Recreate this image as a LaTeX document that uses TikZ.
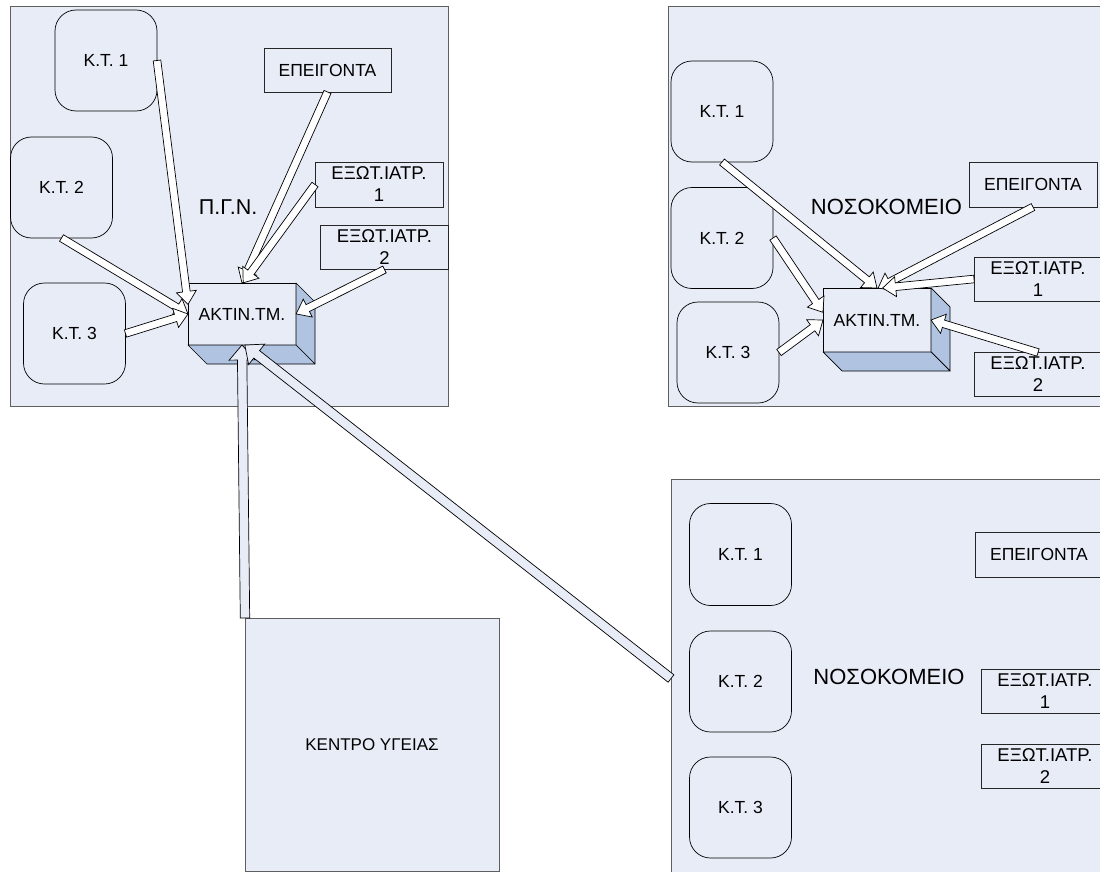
\documentclass[tikz,border=0pt]{standalone}
\usepackage{fontspec}
\setmainfont{Liberation Sans}
\usetikzlibrary{calc}

\definecolor{panelfill}{RGB}{232,236,247}
\definecolor{sidefill}{RGB}{176,196,226}
\definecolor{panelline}{RGB}{95,95,95}

% block-arrow geometry: shaft half-width, head half-width, head length
\def\baW{3.8}\def\baH{10}\def\baL{13}

% block arrow from one named point to another
\newcommand\blockarrow[3][]{%
  \path let \p1=(#2), \p2=(#3),
            \n1={atan2(\y2-\y1,\x2-\x1)},
            \n2={veclen(\x2-\x1,\y2-\y1)} in
    \pgfextra{\xdef\baAng{\n1}\xdef\baLen{\n2}\xdef\baX{\x1}\xdef\baY{\y1}};
  \begin{scope}[shift={(\baX,\baY)},rotate=\baAng]
    \draw[arrowbody,#1]
      (0,-\baW) -- ({\baLen-\baL},-\baW) -- ({\baLen-\baL},-\baH)
      -- (\baLen,0) -- ({\baLen-\baL},\baH) -- ({\baLen-\baL},\baW)
      -- (0,\baW) -- cycle;
  \end{scope}}

% side and bottom faces of a raised box
\newcommand\cubesides[1]{%
  \draw[face] (#1.north east) -- ++(19,19) -- ([shift={(19,19)}]#1.south east)
    -- (#1.south east) -- cycle;
  \draw[face] (#1.south west) -- (#1.south east) -- ([shift={(19,19)}]#1.south east)
    -- ([shift={(19,19)}]#1.south west) -- cycle;}

\begin{document}
\begin{tikzpicture}[x=1pt,y=-1pt,
  panel/.style={draw=panelline,line width=1pt,fill=panelfill,inner sep=0pt,outer sep=0pt},
  ktbox/.style={draw=black,line width=0.7pt,rounded corners=21pt,minimum width=102pt,
    minimum height=101pt,inner sep=0pt,outer sep=0pt,font=\fontsize{17.5}{20}\selectfont},
  tagbox/.style={draw=black!85,line width=0.8pt,minimum width=128pt,minimum height=44pt,
    inner sep=0pt,outer sep=0pt,align=center,font=\fontsize{17.5}{20}\selectfont},
  extbox/.style={tagbox,font=\fontsize{18.5}{22}\selectfont},
  title/.style={inner sep=0pt,font=\fontsize{22}{26}\selectfont},
  ray/.style={draw=black,line width=0.8pt,fill=panelfill,minimum width=108pt,
    minimum height=62pt,inner sep=0pt,outer sep=0pt,font=\fontsize{17.5}{20}\selectfont},
  face/.style={draw=black,line width=0.7pt,fill=sidefill,line join=round},
  arrowbody/.style={draw=black,line width=0.7pt,fill=white,line join=miter},
  wide/.code={\def\baW{4.7}\def\baH{13}\def\baL{15}},
]
\useasboundingbox (0,0) rectangle (1100,872);
\fill[white] (0,0) rectangle (1100,872);

% ---- areas ----
\node[panel,minimum width=438pt,minimum height=399pt] (pgn) at (229,206.5) {};
\node[panel,minimum width=438pt,minimum height=399pt] (hosp1) at (887,206.5) {};
\node[panel,minimum width=439pt,minimum height=399pt] (hosp2) at (890.5,678.5) {};
\node[panel,minimum width=254pt,minimum height=253pt,
      font=\fontsize{17}{20}\selectfont] (kentro) at (372,744.5) {ΚΕΝΤΡΟ ΥΓΕΙΑΣ};

% ---- Π.Γ.Ν. ----
\node[ktbox] (a1) at (106,60.5) {Κ.Τ. 1};
\node[ktbox] (a2) at (61.5,187.5) {Κ.Τ. 2};
\node[ktbox] (a3) at (74.5,333.5) {Κ.Τ. 3};
\node[tagbox,minimum width=127pt] (ae) at (327.5,70) {ΕΠΕΙΓΟΝΤΑ};
\node[extbox,minimum height=45pt] (ax1) at (379,184.5) {ΕΞΩΤ.ΙΑΤΡ.\\1};
\node[extbox] (ax2) at (384.5,247.5) {ΕΞΩΤ.ΙΑΤΡ.\\2};
\node[title,font=\fontsize{21.5}{26}\selectfont] (pgnlabel) at (228,207) {Π.Γ.Ν.};
\node[ray] (ar) at (242,314) {ΑΚΤΙΝ.ΤΜ.};
\cubesides{ar}

% ---- first hospital ----
\node[ktbox] (b1) at (722,111.5) {Κ.Τ. 1};
\node[ktbox] (b2) at (722,238) {Κ.Τ. 2};
\node[ktbox] (b3) at (728,352.5) {Κ.Τ. 3};
\node[tagbox,minimum height=45pt] (be) at (1033,184.5) {ΕΠΕΙΓΟΝΤΑ};
\node[extbox] (bx1) at (1038,279) {ΕΞΩΤ.ΙΑΤΡ.\\1};
\node[extbox] (bx2) at (1038,374.5) {ΕΞΩΤ.ΙΑΤΡ.\\2};
\node[title] (hosp1label) at (886.5,207) {ΝΟΣΟΚΟΜΕΙΟ};
\node[ray,minimum height=64pt] (br) at (877,320) {ΑΚΤΙΝ.ΤΜ.};
\cubesides{br}

% ---- second hospital ----
\node[ktbox,minimum height=102pt] (c1) at (740.5,554.5) {Κ.Τ. 1};
\node[ktbox] (c2) at (740.5,681.5) {Κ.Τ. 2};
\node[ktbox] (c3) at (740.5,807.5) {Κ.Τ. 3};
\node[tagbox,minimum height=45pt] (ce) at (1039,554.5) {ΕΠΕΙΓΟΝΤΑ};
\node[extbox] (cx1) at (1045,691) {ΕΞΩΤ.ΙΑΤΡ.\\1};
\node[extbox] (cx2) at (1045,766) {ΕΞΩΤ.ΙΑΤΡ.\\2};
\node[title] (hosp2label) at (889,677) {ΝΟΣΟΚΟΜΕΙΟ};

% ---- flows inside Π.Γ.Ν. ----
\blockarrow{a1.east}{ar.170}
\blockarrow{a2.south}{ar.west}
\blockarrow{a3.east}{ar.west}
\blockarrow{ae.south}{ar.north}
\blockarrow{ax1.west}{ar.88}
\blockarrow{ax2.south}{ar.east}

% ---- flows inside the first hospital ----
\blockarrow{b1.south}{br.north}
\blockarrow{be.south}{br.88}
\blockarrow{bx1.west}{br.80}
\blockarrow{b2.east}{br.172}
\blockarrow{b3.east}{br.west}
\blockarrow{bx2.north}{br.east}

% ---- flows towards the radiology department of Π.Γ.Ν. ----
\blockarrow[wide,fill=panelfill]{kentro.north west}{ar.south}
\blockarrow[wide,fill=panelfill]{hosp2.west}{ar.-85}
\end{tikzpicture}
\end{document}
